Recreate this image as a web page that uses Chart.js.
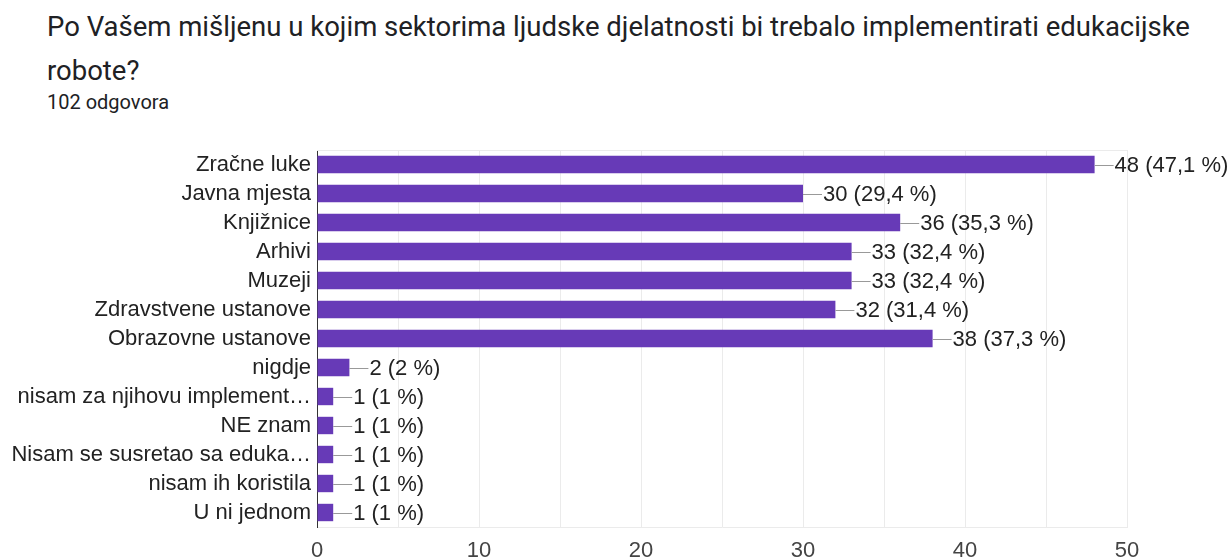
<!DOCTYPE html>
<html>
<head>
<meta charset="utf-8">
<script src="https://cdn.jsdelivr.net/npm/chart.js@4"></script>
<style>
  html, body { margin: 0; padding: 0; background: #fff; }
  body { width: 1231px; height: 559px; position: relative; overflow: hidden; }
  #title {
    position: absolute; left: 47px; top: 5px;
    font-family: Roboto, sans-serif; font-size: 27.5px; line-height: 44px;
    color: #202124; white-space: nowrap;
  }
  #sub {
    position: absolute; left: 47px; top: 90px;
    font-family: Roboto, sans-serif; font-size: 20px; line-height: 24px; color: #202124;
  }
  #wrap { position: absolute; left: 0; top: 130px; width: 1231px; height: 429px; }
</style>
</head>
<body>
<div id="title">Po Vašem mišljenu u kojim sektorima ljudske djelatnosti bi trebalo implementirati edukacijske<br>robote?</div>
<div id="sub">102 odgovora</div>
<div id="wrap"><canvas id="chart"></canvas></div>
<script>
"use strict";

const categories = [
    'Zračne luke',
    'Javna mjesta',
    'Knjižnice',
    'Arhivi',
    'Muzeji',
    'Zdravstvene ustanove',
    'Obrazovne ustanove',
    'nigdje',
    'nisam za njihovu implement…',
    'NE znam',
    'Nisam se susretao sa eduka…',
    'nisam ih koristila',
    'U ni jednom'
];
const counts = [48, 30, 36, 33, 33, 32, 38, 2, 1, 1, 1, 1, 1];
const percents = ['47,1', '29,4', '35,3', '32,4', '32,4', '31,4', '37,3', '2', '1', '1', '1', '1', '1'];
const xTicks = [0, 10, 20, 30, 40, 50];

const fontFamily = '"Liberation Sans", Arial, sans-serif';
const labelFont = '22px ' + fontFamily;

// leader line + "n (p %)" next to each bar, and the top border of the plot
const valueLabels = {
    id: 'valueLabels',
    afterDatasetsDraw(chart) {
        const c = chart.ctx;
        const area = chart.chartArea;
        c.save();
        c.strokeStyle = '#ebebeb';
        c.lineWidth = 1;
        c.beginPath();
        c.moveTo(area.left, area.top + 0.5);
        c.lineTo(area.right, area.top + 0.5);
        c.stroke();

        const meta = chart.getDatasetMeta(0);
        c.font = labelFont;
        c.textBaseline = 'middle';
        c.fillStyle = '#222';
        meta.data.forEach((bar, i) => {
            const x = bar.x;
            const y = Math.round(bar.y) + 0.5;
            c.strokeStyle = '#999';
            c.beginPath();
            c.moveTo(x, y);
            c.lineTo(x + 19, y);
            c.stroke();
            c.fillText(counts[i] + ' (' + percents[i] + ' %)', x + 20, bar.y + 1);
        });
        c.restore();
    }
};

const ctx = document.getElementById('chart').getContext('2d');
const chart = new Chart(ctx, {
    type: 'bar',
    data: {
        labels: categories,
        datasets: [{
            data: counts,
            backgroundColor: '#673ab7',
            categoryPercentage: 1,
            barPercentage: 0.6
        }]
    },
    options: {
        indexAxis: 'y',
        responsive: true,
        maintainAspectRatio: false,
        animation: false,
        layout: { padding: { top: 20, right: 104, left: 0, bottom: 0 } },
        plugins: {
            legend: { display: false },
            tooltip: { enabled: false }
        },
        scales: {
            x: {
                min: 0,
                max: 50,
                afterBuildTicks(scale) {
                    scale.ticks = [];
                    for (let v = 0; v <= 50; v += 5) scale.ticks.push({ value: v });
                },
                afterFit(scale) { scale.height = 32; },
                grid: { color: '#ebebeb', drawTicks: false },
                border: { color: '#ebebeb' },
                ticks: {
                    padding: 11,
                    color: '#444',
                    autoSkip: false,
                    maxRotation: 0,
                    font: { family: fontFamily, size: 22 },
                    callback: v => xTicks.includes(v) ? v : ''
                }
            },
            y: {
                afterFit(scale) { scale.width = 317; },
                grid: { display: false, drawTicks: false },
                border: { color: '#333', width: 1 },
                ticks: {
                    padding: 6,
                    color: '#222',
                    autoSkip: false,
                    font: { family: fontFamily, size: 22 }
                }
            }
        }
    },
    plugins: [valueLabels]
});
</script>
</body>
</html>
